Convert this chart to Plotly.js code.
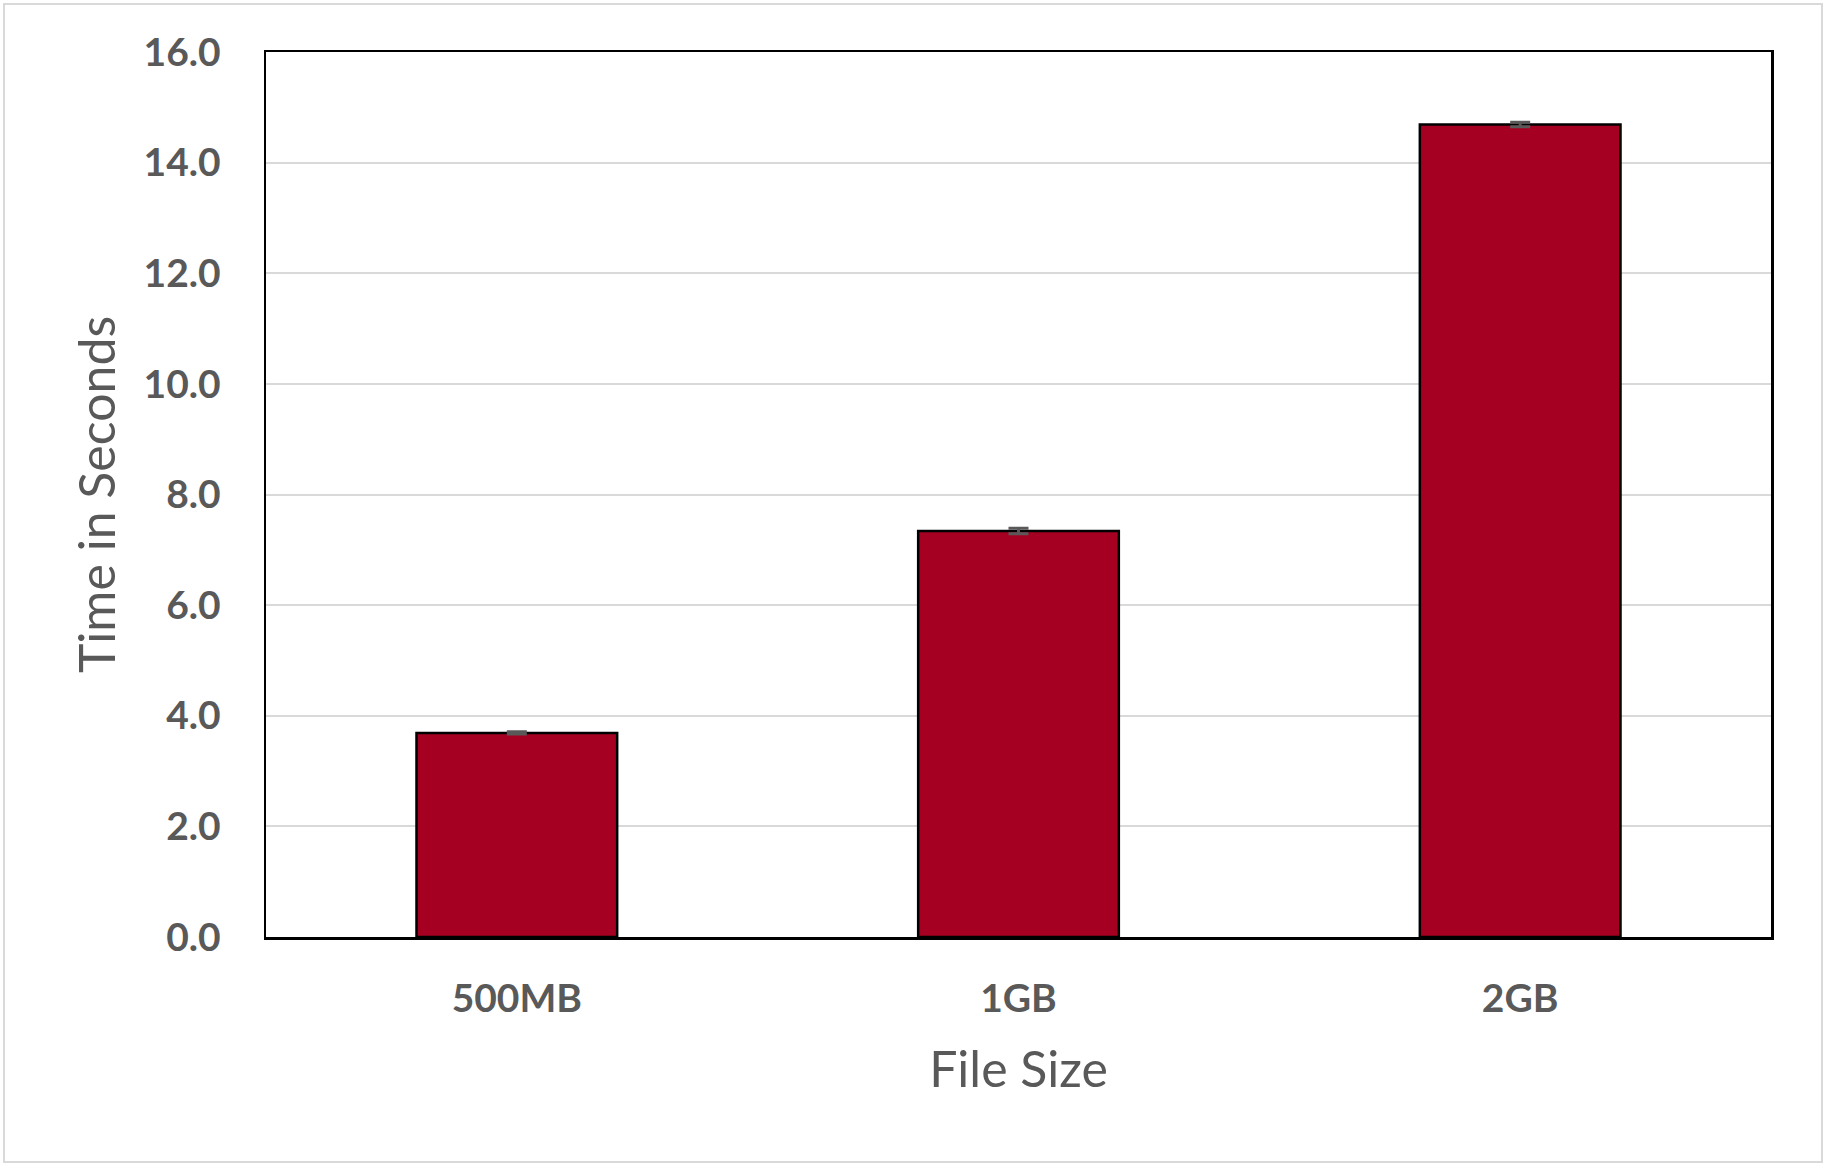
<!DOCTYPE html>
<html>
<head>
<meta charset="utf-8">
<script src="https://cdn.plot.ly/plotly-3.0.1.min.js"></script>
<style>
  html, body { margin: 0; padding: 0; background: #ffffff; }
  #chart { width: 1828px; height: 1168px; }
  #frame {
    position: absolute; left: 3px; top: 3px; width: 1816px; height: 1156px;
    border: 2px solid #d9d9d9; pointer-events: none;
  }
</style>
</head>
<body>
<div id="chart"></div>
<div id="frame"></div>
<script>
// 数据：文件大小与耗时（秒）
const fileSizes = ["500MB", "1GB", "2GB"];
const timeSeconds = [3.69, 7.34, 14.69];
const timeErrors = [0.02, 0.05, 0.04];

const TEXT_COLOR = "#595959";
const FONT = "Lato, 'Open Sans', sans-serif";

const data = [
  {
    type: "bar",
    x: fileSizes,
    y: timeSeconds,
    marker: {
      color: "#A50021",
      line: { color: "#000000", width: 2.5 },
    },
    error_y: {
      type: "data",
      array: timeErrors,
      visible: true,
      color: "#595959",
      thickness: 3,
      width: 10,
    },
    hoverinfo: "x+y",
  },
];

const layout = {
  width: 1828,
  height: 1168,
  margin: { l: 266, r: 57, t: 52, b: 231 },
  paper_bgcolor: "#ffffff",
  plot_bgcolor: "#ffffff",
  bargap: 0.6,
  showlegend: false,
  font: { family: FONT, color: TEXT_COLOR },
  xaxis: {
    title: {
      text: "File Size",
      font: { family: FONT, size: 50, color: TEXT_COLOR },
      standoff: 33,
    },
    tickfont: { family: FONT, size: 39, color: TEXT_COLOR, weight: "bold" },
    ticks: "outside",
    ticklen: 26,
    tickcolor: "rgba(0,0,0,0)",
    showline: true,
    linecolor: "#000000",
    linewidth: 2.5,
    mirror: true,
    showgrid: false,
  },
  yaxis: {
    title: {
      text: "Time in Seconds",
      font: { family: FONT, size: 50, color: TEXT_COLOR },
      standoff: 12,
    },
    range: [0, 16],
    dtick: 2,
    tickformat: ".1f",
    tickfont: { family: FONT, size: 39, color: TEXT_COLOR, weight: "bold" },
    ticks: "outside",
    ticklen: 35,
    tickcolor: "rgba(0,0,0,0)",
    showline: true,
    linecolor: "#000000",
    linewidth: 2.5,
    mirror: true,
    showgrid: true,
    gridcolor: "#d9d9d9",
    gridwidth: 2,
    zeroline: false,
  },
};

Plotly.newPlot("chart", data, layout, { displayModeBar: false, staticPlot: true });
</script>
</body>
</html>
